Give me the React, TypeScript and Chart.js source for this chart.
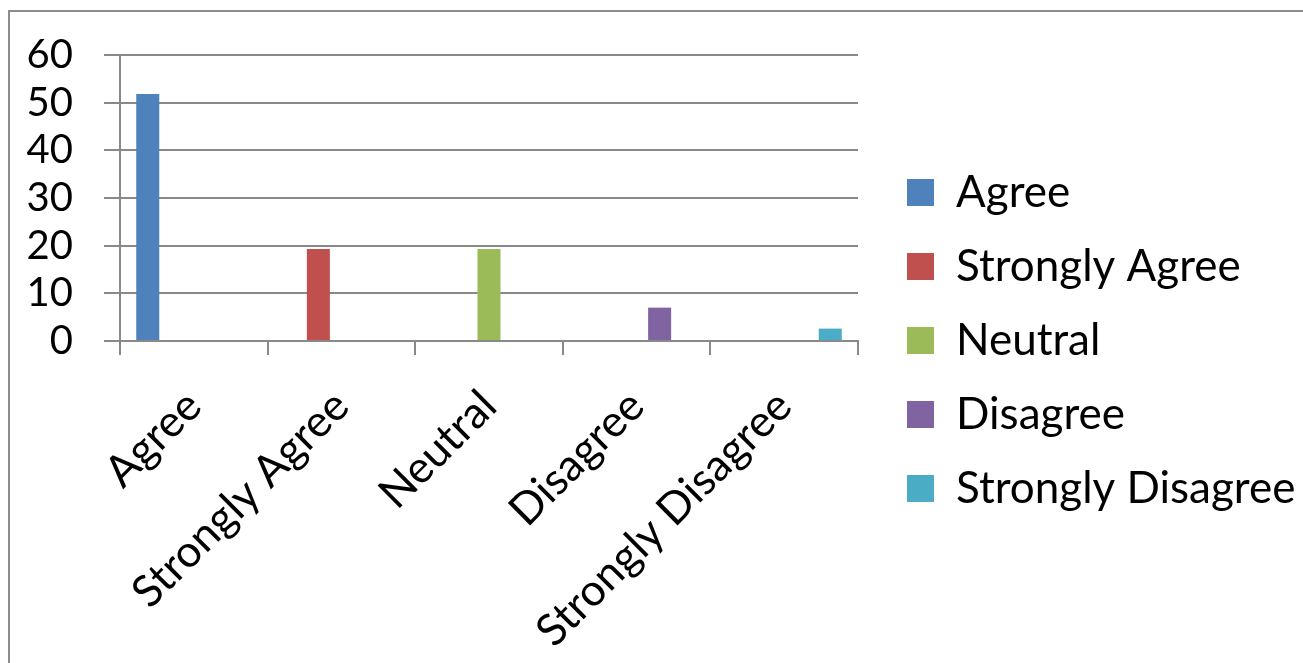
import React, { useEffect, useRef } from "react";
import { Chart, registerables } from "chart.js";

Chart.register(...registerables);

const categories = ["Agree", "Strongly Agree", "Neutral", "Disagree", "Strongly Disagree"];
const seriesNames = ["Agree", "Strongly Agree", "Neutral", "Disagree", "Strongly Disagree"];
const agreeValues = [51.8, null, null, null, null];
const stronglyAgreeValues = [null, 19.3, null, null, null];
const neutralValues = [null, null, 19.3, null, null];
const disagreeValues = [null, null, null, 7.0, null];
const stronglyDisagreeValues = [null, null, null, null, 2.6];
const seriesColors = ["#4F81BD", "#C0504D", "#9BBB59", "#8064A2", "#4BACC6"];
const yTicks = [0, 10, 20, 30, 40, 50, 60];

const FONT = "Lato";
const GRID = "#898989";

const legendShift = {
  id: "legendShift",
  afterLayout(chart: any) {
    const lg = chart.legend;
    if (lg) {
      lg.top -= 17.5;
      lg.bottom -= 17.5;
    }
  },
};

export default function App() {
  const ref = useRef<HTMLCanvasElement | null>(null);

  useEffect(() => {
    if (!ref.current) return;
    const values = [agreeValues, stronglyAgreeValues, neutralValues, disagreeValues, stronglyDisagreeValues];
    const chart = new Chart(ref.current, {
      type: "bar",
      data: {
        labels: categories,
        datasets: values.map((v, i) => ({
          label: seriesNames[i],
          data: v,
          backgroundColor: seriesColors[i],
          borderWidth: 0,
          categoryPercentage: 0.78,
          barPercentage: 1,
        })),
      },
      plugins: [legendShift],
      options: {
        animation: false,
        responsive: false,
        layout: { padding: { top: 53, bottom: 0, left: 0, right: 0 } },
        plugins: {
          tooltip: { enabled: false },
          legend: {
            position: "right",
            maxWidth: 426,
            labels: {
              boxWidth: 27,
              boxHeight: 27,
              padding: 30,
              color: "#000",
              font: { family: FONT, size: 44 },
            },
          },
        },
        scales: {
          x: {
            grid: {
              display: true,
              drawOnChartArea: false,
              drawTicks: true,
              tickLength: 14,
              color: GRID,
              lineWidth: 2,
              offset: true,
            },
            border: { display: true, color: GRID, width: 2 },
            ticks: {
              color: "#000",
              font: { family: FONT, size: 44 },
              minRotation: 45,
              maxRotation: 45,
              padding: 25,
              labelOffset: 0,
              autoSkip: false,
            },
            afterFit: (s: any) => {
              s.height = 322;
            },
          },
          y: {
            min: 0,
            max: 60,
            afterBuildTicks: (s: any) => {
              s.ticks = yTicks.map((v) => ({ value: v }));
            },
            grid: {
              color: GRID,
              lineWidth: 2,
              tickLength: 16,
            },
            border: { display: true, color: GRID, width: 2 },
            ticks: {
              color: "#000",
              font: { family: FONT, size: 40 },
              padding: 31,
              autoSkip: false,
            },
            afterFit: (s: any) => {
              s.width = 120;
            },
          },
          y2: {
            position: "right",
            display: true,
            grid: { display: false },
            border: { display: false },
            ticks: { display: false },
            afterFit: (s: any) => {
              s.width = 19;
            },
          },
        },
      },
    } as any);
    return () => chart.destroy();
  }, []);

  return (
    <div style={{ position: "fixed", left: 0, top: 0, width: 1303, height: 663, overflow: "hidden", background: "#fff" }}>
      <div
        style={{
          position: "absolute",
          left: 8,
          top: 10,
          width: 2000,
          height: 2000,
          border: "2px solid #8c8c8c",
          boxSizing: "border-box",
        }}
      />
      <canvas ref={ref} width={1303} height={663} style={{ position: "absolute", left: 0, top: 0 }} />
    </div>
  );
}
